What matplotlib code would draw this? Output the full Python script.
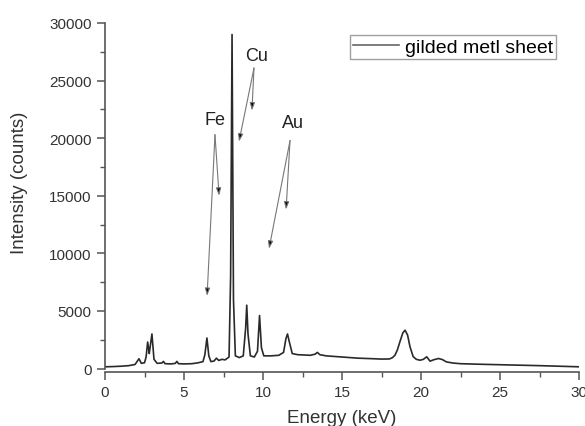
import matplotlib
matplotlib.use("Agg")
import matplotlib.pyplot as plt
from matplotlib.ticker import MultipleLocator

plt.rcParams['font.family'] = ['Liberation Sans', 'DejaVu Sans']

# spectrum (keV, counts)
energy = [0.0, 0.5, 1.0, 1.5, 1.9, 2.05, 2.15, 2.3, 2.5, 2.6, 2.7, 2.8, 2.85, 2.97,
          3.1, 3.3, 3.6, 3.7, 3.8, 4.2, 4.45, 4.55, 4.65, 5.0, 5.5, 5.9, 6.2, 6.32,
          6.45, 6.57, 6.7, 6.9, 7.05, 7.2, 7.4, 7.6, 7.85, 7.95, 8.04, 8.13, 8.25,
          8.5, 8.75, 8.9, 8.97, 9.05, 9.2, 9.45, 9.65, 9.78, 9.9, 10.05, 10.5, 11.0,
          11.3, 11.45, 11.55, 11.65, 11.85, 12.2, 13.0, 13.3, 13.44, 13.6, 14.0,
          15.0, 16.0, 17.0, 17.5, 18.0, 18.2, 18.35, 18.5, 18.67, 18.85, 18.99,
          19.15, 19.3, 19.5, 19.7, 19.94, 20.15, 20.36, 20.57, 20.8, 21.1, 21.35,
          21.6, 22.0, 22.5, 23.5, 25.0, 27.5, 30.0]
counts = [150, 170, 200, 250, 350, 650, 850, 450, 500, 1000, 2300, 1300, 1800, 3000,
          800, 450, 480, 620, 420, 400, 450, 620, 420, 400, 420, 500, 600, 1200,
          2650, 1100, 600, 650, 900, 700, 800, 750, 1000, 8000, 29000, 6000, 1100,
          950, 1100, 3500, 5500, 3000, 1100, 1000, 1500, 4600, 1800, 1100, 1100, 1150,
          1400, 2600, 3000, 2400, 1300, 1200, 1150, 1250, 1400, 1200, 1100,
          1000, 900, 850, 820, 830, 950, 1160, 1600, 2350, 3100, 3330,
          2900, 1900, 1040, 800, 720, 800, 1020, 640, 760, 870, 780,
          580, 480, 420, 380, 330, 250, 150]

# element labels and arrow tips
labels = ['Fe', 'Cu', 'Au']
label_pos = [(6.99, 21650), (9.62, 27200), (11.9, 21350)]
arrow_start = [(6.96, 20300), (9.43, 26100), (11.71, 19800)]
arrow_tips = [[(6.46, 6300), (7.22, 15000)],
              [(8.48, 19700), (9.30, 22400)],
              [(11.46, 13800), (10.38, 10400)]]

fig = plt.figure(figsize=(5.85, 4.27), dpi=100)
ax = fig.add_axes([0.1795, 0.1265, 0.8103, 0.8173])

ax.plot(energy, counts, color='#2a2a2a', lw=1.2, label='gilded metl sheet')

for lab, pos, start, tips in zip(labels, label_pos, arrow_start, arrow_tips):
    ax.text(pos[0], pos[1], lab, ha='center', va='center', fontsize=13, color='#222222')
    for tip in tips:
        ax.annotate('', xy=tip, xytext=start,
                    arrowprops=dict(arrowstyle='-|>,head_length=0.45,head_width=0.15',
                                    ec='#777777', fc='black', lw=0.8, shrinkA=0, shrinkB=0))

ax.set_xlim(0, 30)
ax.set_ylim(-300, 30000)
ax.xaxis.set_major_locator(MultipleLocator(5))
ax.xaxis.set_minor_locator(MultipleLocator(2.5))
ax.yaxis.set_major_locator(MultipleLocator(5000))
ax.yaxis.set_minor_locator(MultipleLocator(2500))

for s in ['top', 'right']:
    ax.spines[s].set_visible(False)
for s in ['left', 'bottom']:
    ax.spines[s].set_color('#555555')
    ax.spines[s].set_linewidth(1.2)
ax.spines['left'].set_bounds(0, 30000)
ax.tick_params(which='major', direction='out', length=6, width=1.1, color='#555555',
               labelsize=11, labelcolor='#333333')
ax.tick_params(which='minor', direction='out', length=3.5, width=1.0, color='#555555')

ax.set_xlabel('Energy (keV)', fontsize=13.5, color='#333333', labelpad=7)
ax.set_ylabel('Intensity (counts)', fontsize=13.5, color='#333333')
ax.yaxis.set_label_coords(-0.162, 0.544)

leg = ax.legend(loc='upper right', bbox_to_anchor=(0.952, 0.965), fontsize=14,
                frameon=True, fancybox=False, handlelength=2.4, borderpad=0.15,
                handletextpad=0.3, borderaxespad=0)
leg.get_frame().set_edgecolor('#888888')
leg.get_frame().set_linewidth(1.0)
leg.get_lines()[0].set_color('#666666')

fig.savefig('out.png', dpi=100)
